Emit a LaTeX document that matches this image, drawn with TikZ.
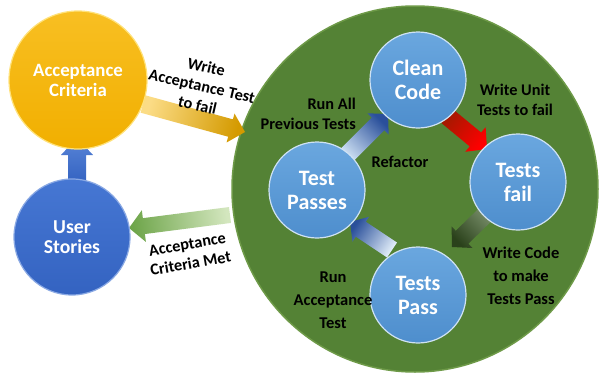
\documentclass[tikz,border=0pt]{standalone}
\usepackage{fontspec}
\setmainfont{Carlito}
\usetikzlibrary{calc}
\definecolor{biggreen}{HTML}{548235}
\definecolor{greenrim}{HTML}{6E9A48}
\definecolor{goldtop}{HTML}{F8BF22}
\definecolor{goldbot}{HTML}{F1AF00}
\definecolor{goldrim}{HTML}{FFE27A}
\definecolor{ustop}{HTML}{4677D3}
\definecolor{usbot}{HTML}{3463C1}
\definecolor{usrim}{HTML}{8AA9E4}
\definecolor{intop}{HTML}{6AA7DF}
\definecolor{inbot}{HTML}{4E8ECD}
\definecolor{inrim}{HTML}{CFE2F3}
\definecolor{arrgreenT}{HTML}{D3E6BE}
\definecolor{arrgreenH}{HTML}{6EA54A}
\newcommand{\blkarrow}[6]{%
  \coordinate (hb) at ($(#2)!#5!(#1)$);
  \path[#6] ($(#1)!#3!90:(#2)$) -- ($(hb)!#3!90:(#2)$) -- ($(hb)!#4!90:(#2)$) -- (#2)
     -- ($(hb)!#4!-90:(#2)$) -- ($(hb)!#3!-90:(#2)$) -- ($(#1)!#3!-90:(#2)$) -- cycle;
}
\begin{document}
\begin{tikzpicture}[x=1pt,y=-1pt,
  bigc/.style={circle, fill=biggreen, draw=greenrim, line width=1.5pt, minimum size=366pt, inner sep=0pt},
  innerc/.style={circle, minimum size=96pt, inner sep=0pt, top color=intop, bottom color=inbot,
     draw=inrim, line width=1.2pt, text=white, align=center, font=\fontsize{22}{24}\selectfont\bfseries},
  acc/.style={circle, minimum size=138pt, inner sep=0pt, top color=goldtop, bottom color=goldbot,
     draw=goldrim, line width=1.2pt, text=white, align=center, font=\fontsize{18.8}{20}\selectfont\bfseries},
  usc/.style={circle, minimum size=116pt, inner sep=0pt, top color=ustop, bottom color=usbot,
     draw=usrim, line width=1.2pt, text=white, align=center, font=\fontsize{19.7}{20.5}\selectfont\bfseries},
  lbl/.style={inner sep=0pt, align=center, text=black, font=\fontsize{16.3}{19.5}\selectfont\bfseries},
  lblb/.style={inner sep=0pt, align=center, text=black, font=\fontsize{16.5}{23}\selectfont\bfseries}]
\useasboundingbox (0,0) rectangle (600,378);
\fill[white] (0,0) rectangle (600,378);

% big green circle
\node[bigc] (big) at (415,189) {};

% arrow end points
\coordinate (upT) at (77,182);   \coordinate (upH) at (77,138);
\coordinate (yT) at (143,104);   \coordinate (yH) at (245,132);
\coordinate (gT) at (230,215);   \coordinate (gH) at (129,228);
\coordinate (b1T) at (345,157);  \coordinate (b1H) at (388,114);
\coordinate (rT) at (447,116);   \coordinate (rH) at (487,149);
\coordinate (dT) at (488,212);   \coordinate (dH) at (452,247);
\coordinate (b2T) at (392,250);  \coordinate (b2H) at (350,222);

% arrows
\blkarrow{upT}{upH}{9pt}{16pt}{17pt}{top color=usbot, bottom color=ustop!90!white, shading angle=180}
\blkarrow{yT}{yH}{9pt}{15pt}{15pt}{top color=goldtop!55!white, bottom color=goldbot!88!black, shading angle=74.6}
\blkarrow{gT}{gH}{8pt}{16pt}{15pt}{top color=arrgreenT, bottom color=arrgreenH, shading angle=277.3}
\blkarrow{b1T}{b1H}{9pt}{15pt}{14pt}{top color=intop!30!white, bottom color=usbot!80!black, shading angle=135}
\blkarrow{rT}{rH}{9pt}{16pt}{15pt}{top color=red!55!black!80!orange, bottom color=red, shading angle=50.5}
\blkarrow{dT}{dH}{9pt}{15pt}{14pt}{top color=biggreen!60!white!80!black, bottom color=biggreen!50!black, shading angle=314}
\blkarrow{b2T}{b2H}{9pt}{15pt}{13pt}{top color=intop!20!white, bottom color=usbot!80!black, shading angle=236.3}

% outer circles
\node[acc] (ac) at (78,80) {Acceptance\\Criteria};
\node[usc] (us) at (72,237) {User\\Stories};

% inner circles
\node[innerc] (cc) at (418,80) {Clean\\Code};
\node[innerc] (tf) at (518,182) {Tests\\fail};
\node[innerc] (tps) at (317,190) {Test\\Passes};
\node[innerc] (tp) at (418,295) {Tests\\Pass};

% labels
\node[lbl, rotate=-13] (l1) at (202,86) {Write\\Acceptance Test\\to fail};
\node[lbl, rotate=10] (l2) at (189,254) {Acceptance\\Criteria Met};
\node[lbl, align=right, anchor=east] (l3) at (356,114) {Run All\\Previous Tests};
\node[lbl] (l4) at (400,162) {Refactor};
\node[lbl] (l5) at (515,100) {Write Unit\\Tests to fail};
\node[lblb] (l6) at (521,276) {Write Code\\to make\\Tests Pass};
\node[lblb] (l7) at (333,300) {Run\\Acceptance\\Test};
\end{tikzpicture}
\end{document}
